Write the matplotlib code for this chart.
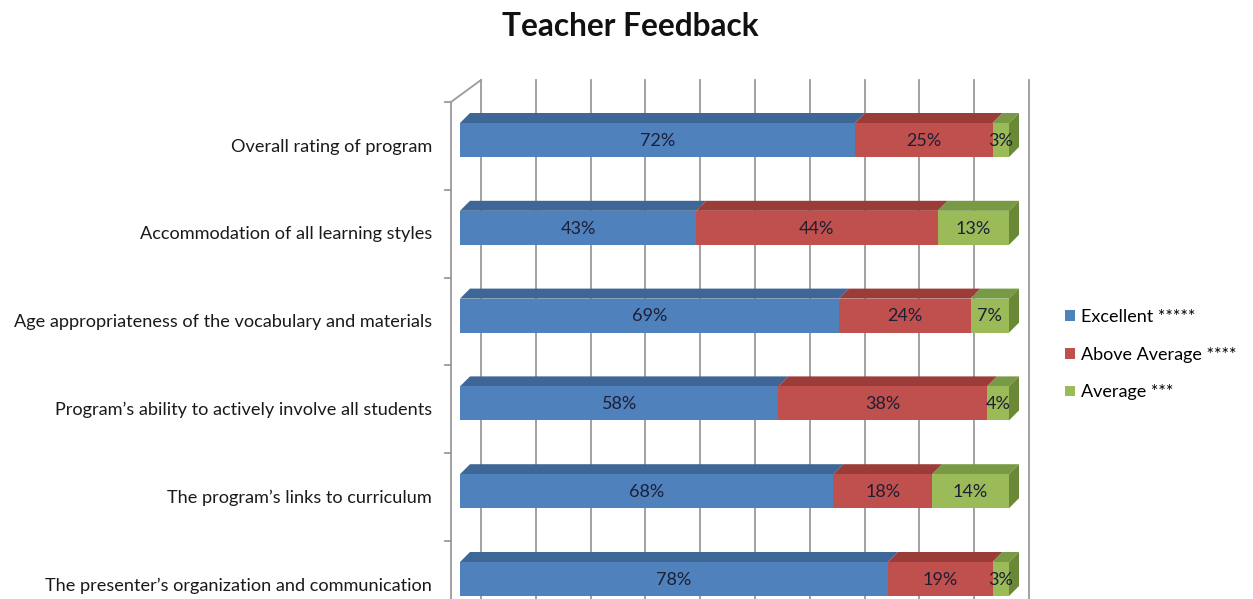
import matplotlib
matplotlib.use("Agg")
import matplotlib.pyplot as plt
from matplotlib.patches import Polygon, Rectangle, Patch

categories = [
    "Overall rating of program",
    "Accommodation of all learning styles",
    "Age appropriateness of the vocabulary and materials",
    "Program\u2019s ability to actively involve all students",
    "The program\u2019s links to curriculum",
    "The presenter\u2019s organization and communication",
]
excellent = [72, 43, 69, 58, 68, 78]
above_average = [25, 44, 24, 38, 18, 19]
average = [3, 13, 7, 4, 14, 3]
series_names = ["Excellent *****", "Above Average ****", "Average ***"]

front_colors = ["#4F81BD", "#C0504D", "#9BBB59"]
top_colors = ["#3E6696", "#9C3C39", "#789A44"]
side_colors = ["#34587F", "#86302E", "#6A8835"]

plt.rcParams['font.family'] = ['Lato', 'DejaVu Sans']

W, H = 1253, 599
fig = plt.figure(figsize=(W / 100, H / 100), dpi=100)

# axes spans pixel x 440..1040, y 60..599
ax = fig.add_axes([440 / W, 0, 600 / W, (599 - 60) / H])
pxx = 5.49          # pixels per percent
pxy = 87.8          # pixels per category
x0_pix, y0_pix = 460, 140
ax.set_xlim((440 - x0_pix) / pxx, (1040 - x0_pix) / pxx)
ax.set_ylim((599 - y0_pix) / pxy, (60 - y0_pix) / pxy)
ax.axis('off')

def X(p):
    return (p - x0_pix) / pxx

def Y(p):
    return (p - y0_pix) / pxy

# depth offsets
ddx = 10 / pxx
ddy = -10 / pxy
bh = 34 / pxy

# back wall gridlines
wall_dx = X(481)
grid_top = Y(80)
for k in range(11):
    gx = wall_dx + k * 9.98
    ax.plot([gx, gx], [grid_top, Y(610)], color="#9a9a9a", lw=1.3, zorder=1, clip_on=False)

# left wall
wall_x = X(451)
ax.plot([wall_x, wall_x], [Y(102), Y(610)], color="#9a9a9a", lw=1.3, zorder=1, clip_on=False)
ax.plot([wall_x, X(481)], [Y(102), grid_top], color="#9a9a9a", lw=1.3, zorder=1, clip_on=False)
for k in range(7):
    ty = Y(102) + k * 1.0
    ax.plot([X(445), wall_x], [ty, ty], color="#9a9a9a", lw=1.3, zorder=1, clip_on=False)

series = [excellent, above_average, average]
for i, cat in enumerate(categories):
    left = 0
    yt = i - bh / 2
    yb = i + bh / 2
    for s, vals in enumerate(series):
        v = vals[i]
        right = left + v
        top = Polygon([[left, yt], [left + ddx, yt + ddy], [right + ddx, yt + ddy], [right, yt]],
                      closed=True, facecolor=top_colors[s], edgecolor='none', zorder=3)
        ax.add_patch(top)
        ax.add_patch(Rectangle((left, yt), v, bh, facecolor=front_colors[s], edgecolor='none', zorder=4))
        ax.text(left + v / 2, i + 0.01, f"{v}%", ha='center', va='center', fontsize=13,
                color="#1e1e35", zorder=6)
        left = right
    side = Polygon([[left, yt], [left + ddx, yt + ddy], [left + ddx, yb + ddy], [left, yb]],
                   closed=True, facecolor=side_colors[2], edgecolor='none', zorder=3)
    ax.add_patch(side)
    ax.text(X(432), i + 0.075, cat, ha='right', va='center', fontsize=13.1, color="#1a1a1a",
            clip_on=False)

fig.text(630 / W, 1 - 27 / H, "Teacher Feedback", ha='center', va='center', fontsize=22.8,
         fontweight='bold', color="#111111")

handles = [Patch(facecolor=c, edgecolor='none') for c in front_colors]
fig.legend(handles, series_names, loc='upper left', bbox_to_anchor=(1065 / W, 1 - 309 / H),
           frameon=False, fontsize=13, handlelength=0.55, handleheight=0.55, handletextpad=0.35,
           labelspacing=1.2, borderaxespad=0, borderpad=0)

fig.savefig("out.png", dpi=100)
